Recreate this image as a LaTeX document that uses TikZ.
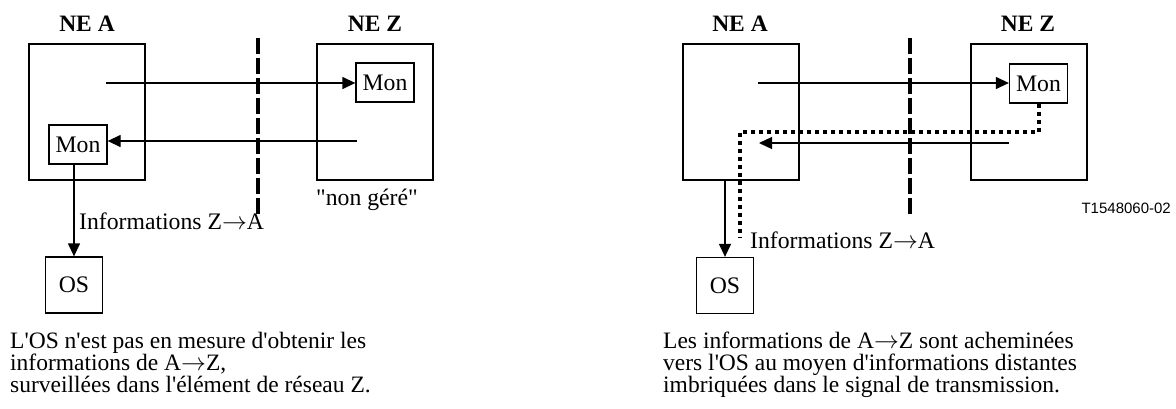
\documentclass[tikz,border=0pt]{standalone}
\usepackage{fontspec}
\setmainfont{Liberation Serif}[Ligatures=TeXOff]
\newfontfamily\arialfont{Liberation Sans}
\usetikzlibrary{arrows.meta,calc}
\newcommand{\toarrow}{\ensuremath{\rightarrow}}
\tikzset{
  nebox/.style={draw=black, line width=1.3pt, minimum width=116pt, minimum height=136pt, inner sep=0pt},
  monbox/.style={draw=black, line width=1.3pt, minimum width=58pt, minimum height=39pt, inner sep=0pt, font=\fontsize{23.7}{26}\selectfont},
  osbox/.style={draw=black, line width=1.3pt, minimum width=57pt, minimum height=56pt, inner sep=0pt, font=\fontsize{23.7}{26}\selectfont},
  nelabel/.style={inner sep=0pt, font=\fontsize{23.5}{26}\selectfont\bfseries},
  lbl/.style={inner sep=0pt, font=\fontsize{23.7}{26}\selectfont},
  caption/.style={inner sep=0pt, align=left, font=\fontsize{23.5}{22}\selectfont},
  figid/.style={inner sep=0pt, font=\fontsize{15}{18}\selectfont\arialfont},
  arr/.style={line width=1.3pt, -{Triangle[length=13pt,width=12pt]}},
  boundary/.style={line width=4pt, dash pattern=on 16pt off 4pt},
  remote/.style={line width=4pt, dash pattern=on 4pt off 4pt},
}
\begin{document}
\begin{tikzpicture}[x=1pt,y=-1pt]
\useasboundingbox (0,0) rectangle (1176,408);
% ---------------- left panel ----------------
\node[nelabel] (neAlbl) at (87,24) {NE A};
\node[nelabel] (neZlbl) at (375,24) {NE Z};
\node[nebox] (boxA) at (87,112) {};
\node[nebox] (boxZ) at (375,112) {};
\node[monbox] (monZ) at (385,82.5) {Mon};
\node[monbox] (monA) at (78,144.5) {Mon};
\node[osbox] (os) at (74,285) {OS};
\coordinate (lineA) at (106,83);
\coordinate (lineZ) at (357,141);
\coordinate (dTop) at (258,38);
\coordinate (dBot) at (258,215);
\draw[boundary] (dTop) -- (dBot);
\draw[arr] (lineA) -- (lineA -| monZ.west);
\draw[arr] (lineZ) -- (lineZ -| monA.east);
\draw[arr] (monA.south -| os.north) -- (os.north);
\node[lbl, anchor=west] (infoL) at (79,221) {Informations Z\toarrow A};
\node[lbl] (nongere) at (367,200) {"non géré"};
\node[caption, anchor=north west] (capL) at (10,332) {L'OS n'est pas en mesure d'obtenir les\\informations de A\toarrow Z,\\surveillées dans l'élément de réseau Z.};
% ---------------- right panel ----------------
\node[nelabel] (neAlbl2) at (740,24) {NE A};
\node[nelabel] (neZlbl2) at (1028,24) {NE Z};
\node[nebox] (boxA2) at (741,112) {};
\node[nebox] (boxZ2) at (1029,112) {};
\node[monbox] (monZ2) at (1038.5,83.5) {Mon};
\node[osbox] (os2) at (725,285.5) {OS};
\coordinate (lineA2) at (758,83);
\coordinate (lineZ2) at (1009,143);
\coordinate (tipA2) at (759,143);
\coordinate (dTop2) at (910,38);
\coordinate (dBot2) at (910,216);
\coordinate (r1) at (1039,132);
\coordinate (r2) at (740,132);
\coordinate (r3) at (740,237);
\draw[boundary] (dTop2) -- (dBot2);
\draw[arr] (lineA2) -- (lineA2 -| monZ2.west);
\draw[arr] (lineZ2) -- (tipA2);
\draw[arr] (os2.north |- boxA2.south) -- (os2.north);
\draw[remote] (monZ2.south -| r1) -- (r1) -- (r2) -- (r3);
\node[lbl, anchor=west] (infoR) at (750,240) {Informations Z\toarrow A};
\node[figid, anchor=east] (fid) at (1171,208) {T1548060-02};
\node[caption, anchor=north west] (capR) at (663,332) {Les informations de A\toarrow Z sont acheminées\\vers l'OS au moyen d'informations distantes\\imbriquées dans le signal de transmission.};
\end{tikzpicture}
\end{document}
